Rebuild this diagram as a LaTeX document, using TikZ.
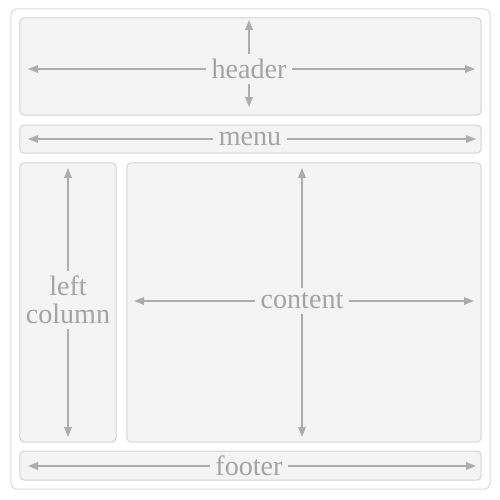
\documentclass[tikz,border=0pt]{standalone}
\usepackage{fontspec}
\setmainfont{Liberation Serif}
\usetikzlibrary{arrows.meta}
\definecolor{boxfill}{HTML}{F4F4F4}
\definecolor{boxline}{HTML}{D2D2D2}
\definecolor{arrowgray}{HTML}{ADADAD}
\definecolor{textgray}{HTML}{A4A4A4}
\tikzstyle{block}=[rectangle, fill=boxfill, draw=boxline,
                   line width=0.2mm, inner sep=0pt,
                   rounded corners=0.8mm]

\begin{document}
\begin{tikzpicture}[x=0.2mm,y=-0.2mm]
  \tikzstyle{labels}=[font=\rmfamily\fontsize{16}{16}\selectfont,text=textgray,inner sep=1mm,align=center]
  \tikzstyle{dim}=[arrowgray,line width=0.3mm,-{Triangle[length=2mm,width=1.5mm]}]
  \useasboundingbox (0,0) rectangle (500,500);
  % page frame and regions
  \node (frame) at (250.5,249) [block,fill=white,draw=boxline!80,rounded corners=1.2mm,minimum width=95.8mm,minimum height=96mm] {};
  \node (header) at (250.5,66.5) [block,minimum width=92.2mm,minimum height=19.4mm] {};
  \node (menu) at (250.5,139) [block,minimum width=92.2mm,minimum height=5.6mm] {};
  \node (leftcol) at (68,302.5) [block,minimum width=19.2mm,minimum height=55.8mm] {};
  \node (content) at (304,302.5) [block,minimum width=70.8mm,minimum height=55.8mm] {};
  \node (footer) at (250.5,465.5) [block,minimum width=92.2mm,minimum height=5.8mm] {};
  % labels
  \node[labels] (headerlabel) at (249,69) {header};
  \node[labels] (menulabel) at (250,139) {menu};
  \node[labels] (leftcollabel) at (68,300) {left\\column};
  \node[labels] (contentlabel) at (302,301) {content};
  \node[labels] (footerlabel) at (249,466) {footer};
  % arrow ends
  \coordinate (headerW) at (28,69);
  \coordinate (headerE) at (475,69);
  \coordinate (headerN) at (249,20);
  \coordinate (headerS) at (249,107);
  \coordinate (menuW) at (28,139);
  \coordinate (menuE) at (476,139);
  \coordinate (leftcolN) at (68,168);
  \coordinate (leftcolS) at (68,437);
  \coordinate (contentW) at (134,301);
  \coordinate (contentE) at (474,301);
  \coordinate (contentN) at (302,168);
  \coordinate (contentS) at (302,437);
  \coordinate (footerW) at (28,466);
  \coordinate (footerE) at (476,466);
  \draw [dim] (headerlabel) -- (headerW);
  \draw [dim] (headerlabel) -- (headerE);
  \draw [dim] (headerlabel) -- (headerN);
  \draw [dim] (headerlabel) -- (headerS);
  \draw [dim] (menulabel) -- (menuW);
  \draw [dim] (menulabel) -- (menuE);
  \draw [dim] (leftcollabel) -- (leftcolN);
  \draw [dim] (leftcollabel) -- (leftcolS);
  \draw [dim] (contentlabel) -- (contentW);
  \draw [dim] (contentlabel) -- (contentE);
  \draw [dim] (contentlabel) -- (contentN);
  \draw [dim] (contentlabel) -- (contentS);
  \draw [dim] (footerlabel) -- (footerW);
  \draw [dim] (footerlabel) -- (footerE);
\end{tikzpicture}
\end{document}
